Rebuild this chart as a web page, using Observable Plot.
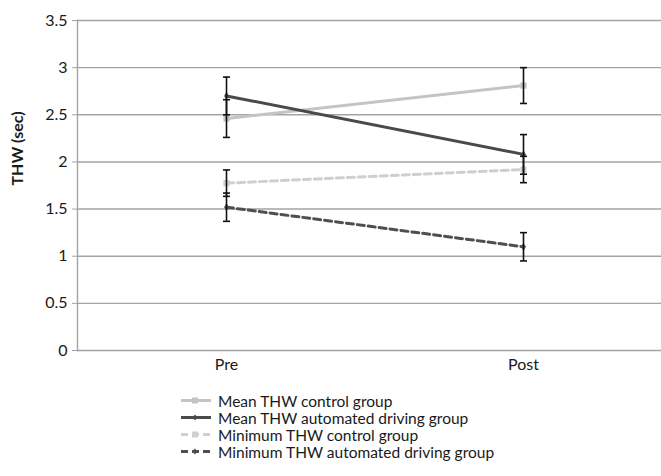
<!DOCTYPE html>
<html>
<head>
<meta charset="utf-8">
<script src="https://cdn.jsdelivr.net/npm/d3@7"></script>
<script src="https://cdn.jsdelivr.net/npm/@observablehq/plot@0.6"></script>
<style>
  body { margin: 0; background: #fff; font-family: Lato, "Open Sans", sans-serif; }
  #wrap { position: relative; width: 661px; height: 476px; overflow: hidden; }
  #legend { position: absolute; left: 180px; top: 392px; font-size: 15.5px; color: #1a1a1a; }
  .row { height: 17px; display: flex; align-items: center; white-space: nowrap; }
  .row svg { margin-right: 6px; }
</style>
</head>
<body>
<div id="wrap"><div id="chart"></div><div id="legend"></div></div>
<script>
const phases = ["Pre", "Post"];
const yTicks = [0, 0.5, 1, 1.5, 2, 2.5, 3, 3.5];
const seriesNames = [
  "Mean THW control group",
  "Mean THW automated driving group",
  "Minimum THW control group",
  "Minimum THW automated driving group"
];
const meanControl = [2.46, 2.81];
const meanControlErr = [0.20, 0.19];
const meanAuto = [2.70, 2.08];
const meanAutoErr = [0.20, 0.21];
const minControl = [1.775, 1.92];
const minControlErr = [0.14, 0.14];
const minAuto = [1.52, 1.10];
const minAutoErr = [0.15, 0.15];

const seriesStyles = [
  {color: "#c4c4c4", dash: "none", symbol: "square"},
  {color: "#4a4a4a", dash: "none", symbol: "diamond"},
  {color: "#cfcfcf", dash: "7,4", symbol: "square"},
  {color: "#4f4f4f", dash: "7,4", symbol: "diamond"}
];
const values = [meanControl, meanAuto, minControl, minAuto];
const errs = [meanControlErr, meanAutoErr, minControlErr, minAutoErr];

const rows = [];
values.forEach((vals, s) => phases.forEach((p, i) => rows.push({
  series: seriesNames[s], s, phase: p, value: vals[i], lo: vals[i] - errs[s][i], hi: vals[i] + errs[s][i]
})));

const capSymbol = {
  draw(ctx, size) { const r = Math.sqrt(size / Math.PI); ctx.moveTo(-r, 0); ctx.lineTo(r, 0); }
};

const lineMarks = [0, 1, 2, 3].map(s => Plot.line(rows.filter(d => d.s === s), {
  x: "phase", y: "value", stroke: seriesStyles[s].color, strokeWidth: 3,
  strokeDasharray: seriesStyles[s].dash
}));
const dotMarks = [0, 1, 2, 3].map(s => Plot.dot(rows.filter(d => d.s === s), {
  x: "phase", y: "value", fill: seriesStyles[s].color, symbol: seriesStyles[s].symbol,
  r: seriesStyles[s].symbol === "square" ? 3.5 : 2.5
}));

const chart = Plot.plot({
  width: 661,
  height: 385,
  marginLeft: 77,
  marginRight: -11,
  marginTop: 20,
  marginBottom: 35,
  style: {fontFamily: "Lato, 'Open Sans', sans-serif", fontSize: "16px", color: "#1a1a1a"},
  x: {type: "point", domain: phases, padding: 0.5, label: null},
  y: {domain: [0, 3.5], ticks: yTicks, label: null},
  marks: [
    Plot.ruleY(yTicks, {stroke: "#a3a3a3", strokeWidth: 1.4}),
    Plot.frame({anchor: "left", stroke: "#a3a3a3", strokeWidth: 1.4}),
    Plot.axisY({ticks: yTicks, tickSize: 5, tickPadding: 5, stroke: "#a3a3a3", fontSize: 16, fill: "#1a1a1a", tickFormat: d => String(d), label: null}),
    Plot.axisX({tickSize: 0, tickPadding: 8, fontSize: 16, fill: "#1a1a1a", label: null}),
    Plot.text(["THW (sec)"], {frameAnchor: "left", dx: -60, rotate: -90, fontWeight: "bold", fontSize: 16, fill: "#1a1a1a"}),
    ...lineMarks,
    ...dotMarks,
    Plot.ruleX(rows, {x: "phase", y1: "lo", y2: "hi", stroke: "#111", strokeWidth: 1.6}),
    Plot.dot(rows, {x: "phase", y: "lo", symbol: capSymbol, r: 3.5, stroke: "#111", strokeWidth: 1.6, fill: "none"}),
    Plot.dot(rows, {x: "phase", y: "hi", symbol: capSymbol, r: 3.5, stroke: "#111", strokeWidth: 1.6, fill: "none"})
  ]
});
document.getElementById("chart").append(chart);

const legend = document.getElementById("legend");
seriesNames.forEach((name, s) => {
  const st = seriesStyles[s];
  const row = document.createElement("div");
  row.className = "row";
  const marker = st.symbol === "square"
    ? `<rect x="12" y="4.5" width="6" height="6" fill="${st.color}"/>`
    : `<path d="M15 4.5 L17.5 7.5 L15 10.5 L12.5 7.5 Z" fill="${st.color}"/>`;
  row.innerHTML = `<svg width="32" height="15"><line x1="1" y1="7.5" x2="31" y2="7.5" stroke="${st.color}" stroke-width="3" stroke-dasharray="${st.dash}"/>${marker}</svg><span>${name}</span>`;
  legend.append(row);
});
</script>
</body>
</html>
